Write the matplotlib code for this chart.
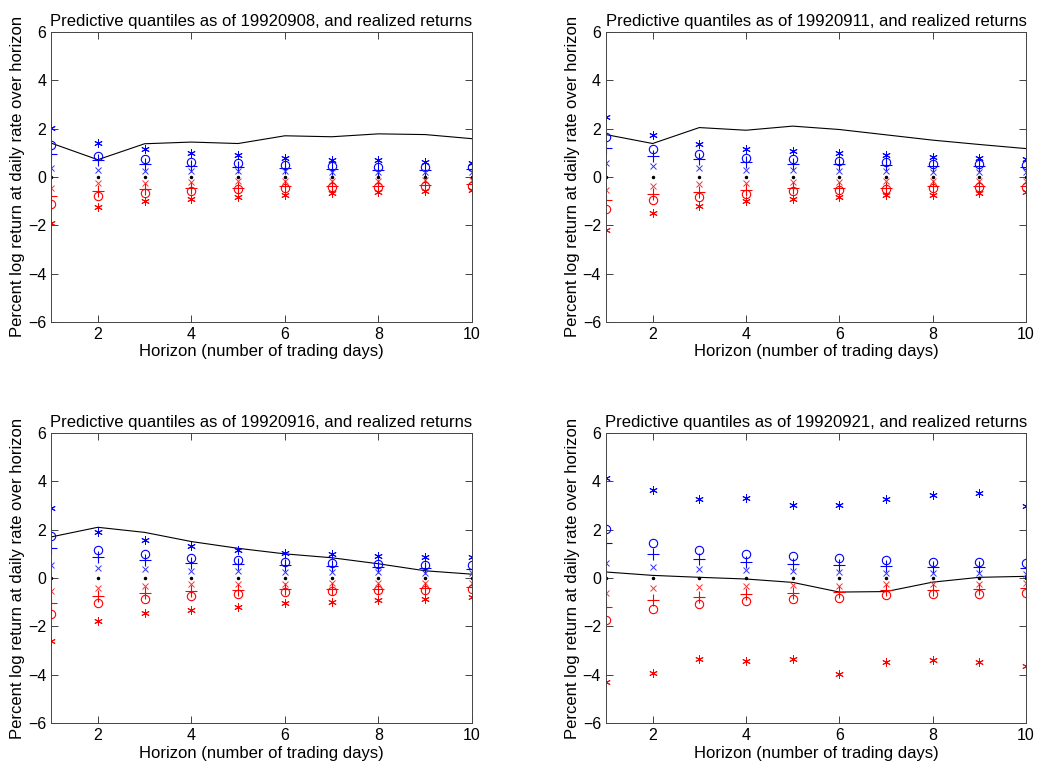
import matplotlib
matplotlib.use("Agg")
import matplotlib.pyplot as plt

plt.rcParams['font.family'] = ['Liberation Sans', 'DejaVu Sans']

dates = ["19920908", "19920911", "19920916", "19920921"]
horizon = [1, 2, 3, 4, 5, 6, 7, 8, 9, 10]

# upper quantiles (blue), one row per forecast date
up_star = [
    [2.03, 1.41, 1.14, 1.00, 0.89, 0.78, 0.71, 0.68, 0.62, 0.58],
    [2.46, 1.72, 1.38, 1.17, 1.06, 0.99, 0.90, 0.83, 0.80, 0.76],
    [2.88, 1.92, 1.58, 1.33, 1.16, 1.04, 1.00, 0.93, 0.86, 0.86],
    [4.12, 3.64, 3.28, 3.33, 3.04, 3.04, 3.28, 3.43, 3.51, 2.97],
]
up_circle = [
    [1.30, 0.88, 0.75, 0.63, 0.58, 0.49, 0.47, 0.42, 0.41, 0.40],
    [1.63, 1.17, 0.94, 0.80, 0.72, 0.66, 0.61, 0.55, 0.52, 0.48],
    [1.73, 1.16, 0.99, 0.82, 0.74, 0.68, 0.63, 0.59, 0.55, 0.52],
    [2.04, 1.46, 1.18, 1.00, 0.90, 0.82, 0.75, 0.68, 0.65, 0.63],
]
up_plus = [
    [0.96, 0.68, 0.52, 0.44, 0.41, 0.36, 0.33, 0.30, 0.30, 0.32],
    [1.21, 0.86, 0.72, 0.62, 0.55, 0.52, 0.50, 0.46, 0.44, 0.41],
    [1.23, 0.86, 0.74, 0.63, 0.59, 0.55, 0.49, 0.45, 0.41, 0.38],
    [1.43, 0.99, 0.79, 0.65, 0.60, 0.53, 0.49, 0.47, 0.44, 0.43],
]
up_x = [
    [0.38, 0.30, 0.26, 0.25, 0.26, 0.23, 0.22, 0.21, 0.21, 0.20],
    [0.59, 0.44, 0.36, 0.30, 0.28, 0.25, 0.23, 0.22, 0.22, 0.21],
    [0.56, 0.41, 0.36, 0.30, 0.29, 0.27, 0.25, 0.23, 0.22, 0.21],
    [0.63, 0.44, 0.38, 0.32, 0.28, 0.24, 0.22, 0.21, 0.19, 0.18],
]
median = [
    [0.0] * 10,
    [0.0] * 10,
    [0.0] * 10,
    [0.0] * 10,
]
# lower quantiles (red)
lo_x = [
    [-0.44, -0.27, -0.26, -0.21, -0.18, -0.18, -0.18, -0.18, -0.14, -0.14],
    [-0.55, -0.39, -0.30, -0.25, -0.22, -0.21, -0.19, -0.18, -0.18, -0.17],
    [-0.55, -0.41, -0.33, -0.26, -0.25, -0.23, -0.22, -0.22, -0.19, -0.19],
    [-0.63, -0.43, -0.38, -0.35, -0.29, -0.31, -0.26, -0.25, -0.25, -0.22],
]
lo_plus = [
    [-0.79, -0.58, -0.52, -0.48, -0.44, -0.38, -0.36, -0.36, -0.32, -0.30],
    [-0.97, -0.72, -0.63, -0.55, -0.48, -0.44, -0.44, -0.39, -0.37, -0.36],
    [-1.03, -0.74, -0.62, -0.52, -0.48, -0.47, -0.44, -0.44, -0.40, -0.37],
    [-1.21, -0.92, -0.78, -0.68, -0.60, -0.57, -0.51, -0.49, -0.47, -0.43],
]
lo_circle = [
    [-1.12, -0.78, -0.66, -0.58, -0.49, -0.47, -0.42, -0.40, -0.36, -0.36],
    [-1.34, -0.97, -0.83, -0.69, -0.58, -0.55, -0.50, -0.44, -0.41, -0.41],
    [-1.47, -1.05, -0.85, -0.75, -0.66, -0.58, -0.55, -0.51, -0.48, -0.44],
    [-1.74, -1.29, -1.06, -0.94, -0.88, -0.81, -0.71, -0.68, -0.65, -0.63],
]
lo_star = [
    [-1.90, -1.26, -1.00, -0.92, -0.82, -0.75, -0.68, -0.64, -0.59, -0.55],
    [-2.19, -1.49, -1.20, -1.01, -0.92, -0.83, -0.76, -0.73, -0.66, -0.62],
    [-2.60, -1.77, -1.44, -1.32, -1.19, -1.05, -0.99, -0.92, -0.85, -0.79],
    [-4.30, -3.92, -3.33, -3.43, -3.33, -3.96, -3.46, -3.40, -3.46, -3.64],
]
# realized returns (black line)
realized = [
    [1.40, 0.71, 1.37, 1.44, 1.38, 1.70, 1.66, 1.78, 1.75, 1.58],
    [1.75, 1.38, 2.04, 1.93, 2.10, 1.96, 1.74, 1.52, 1.34, 1.17],
    [1.70, 2.10, 1.89, 1.51, 1.23, 1.00, 0.84, 0.59, 0.30, 0.16],
    [0.25, 0.11, 0.03, -0.04, -0.18, -0.58, -0.56, -0.17, 0.03, 0.07],
]

fig = plt.figure(figsize=(10.41, 7.70), dpi=100)
positions = [
    [0.049, 0.582, 0.4044, 0.3766],
    [0.5821, 0.582, 0.4035, 0.3766],
    [0.049, 0.061, 0.4044, 0.3766],
    [0.5821, 0.061, 0.4035, 0.3766],
]

# matlab-style asterisk
asterisk = (6, 2, 0)

for i, date in enumerate(dates):
    ax = fig.add_axes(positions[i])
    ax.plot(horizon, realized[i], color='black', lw=0.8)
    ax.plot(horizon, up_star[i], marker=asterisk, ls='none', color='blue', ms=6, mew=0.7)
    ax.plot(horizon, up_circle[i], 'o', mfc='none', mec='blue', ms=6, mew=0.8)
    ax.plot(horizon, up_plus[i], '+', color='blue', ms=8, mew=0.8)
    ax.plot(horizon, up_x[i], 'x', color='#3333ff', ms=4, mew=0.7)
    ax.plot(horizon, median[i], '.', color='black', ms=3)
    ax.plot(horizon, lo_x[i], 'x', color='#ff3333', ms=4, mew=0.7)
    ax.plot(horizon, lo_plus[i], '+', color='red', ms=8, mew=0.8)
    ax.plot(horizon, lo_circle[i], 'o', mfc='none', mec='red', ms=6, mew=0.8)
    ax.plot(horizon, lo_star[i], marker=asterisk, ls='none', color='red', ms=6, mew=0.7)

    ax.set_xlim(1, 10)
    ax.set_ylim(-6, 6)
    ax.set_xticks([2, 4, 6, 8, 10])
    ax.set_yticks([-6, -4, -2, 0, 2, 4, 6])
    ax.tick_params(direction='in', top=True, right=True, labelsize=11.5,
                   length=5, width=0.6, colors='#222222', labelcolor='black')
    for s in ax.spines.values():
        s.set_linewidth(0.7)
        s.set_color('#444444')
    ax.set_title(f"Predictive quantiles as of {date}, and realized returns",
                 fontsize=12, pad=4)
    ax.set_xlabel("Horizon (number of trading days)", fontsize=12, labelpad=2)
    ax.set_ylabel("Percent log return at daily rate over horizon", fontsize=12,
                  labelpad=2)

fig.savefig("out.png", dpi=100)
